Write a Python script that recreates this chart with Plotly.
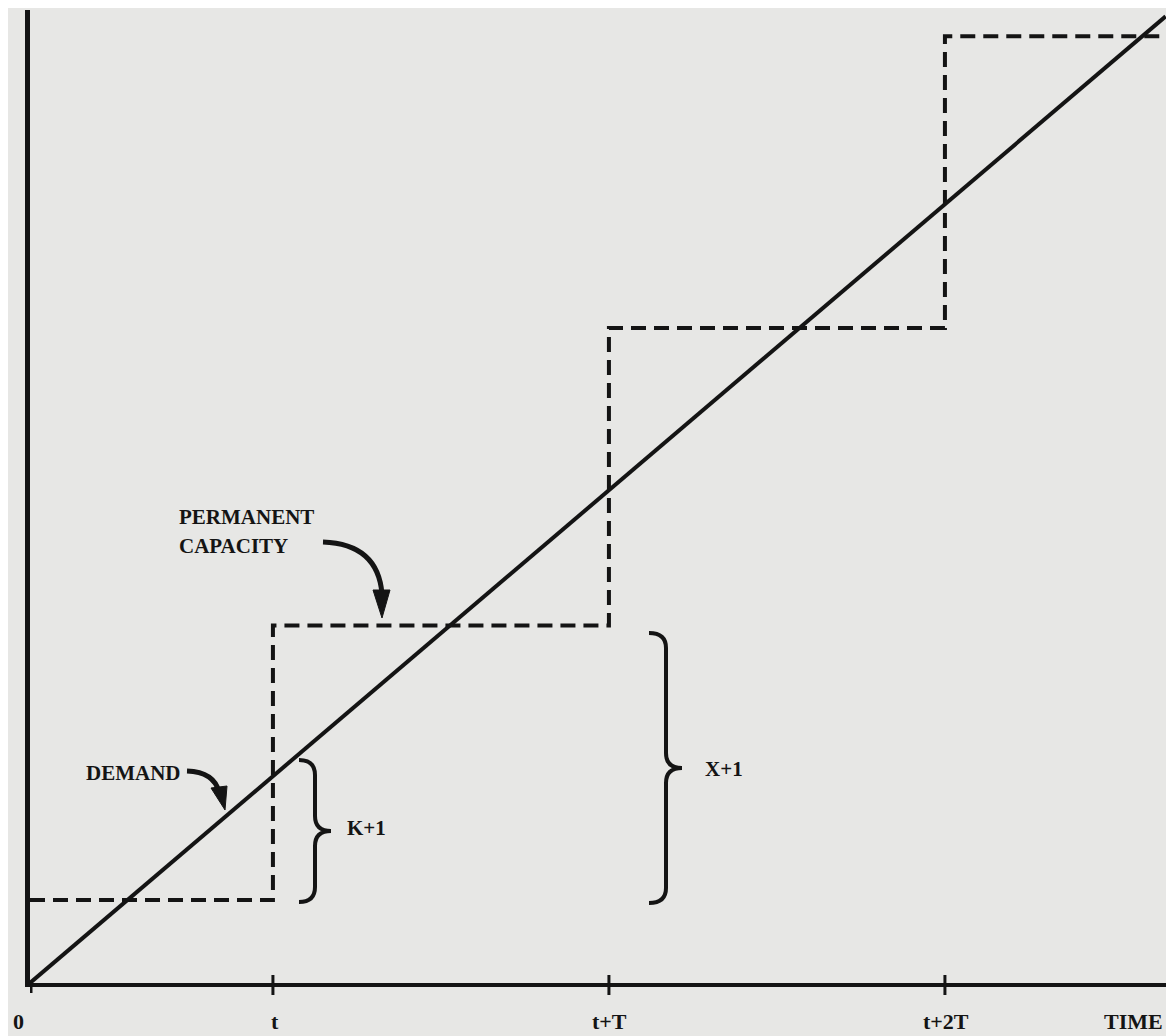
import plotly.graph_objects as go

# ---------------- data ----------------
tick_positions = [0.0, 0.723, 1.723, 2.723]
tick_labels = ["0", "t", "t+T", "t+2T"]
x_axis_title = "TIME"

step_times = [0.0, 0.723, 1.723, 2.723, 3.38]
capacity_levels = [0.29, 1.25, 2.29, 3.31, 3.31]

demand_x = [0.0, 3.38]
demand_y = [0.0, 3.38]

# ---------------- geometry helpers (decorations) ----------------
PAGE_OFF = 8                 # default body margin of the page
RIGHT_PX = 1166              # visible right edge of the page content
W, H = RIGHT_PX - PAGE_OFF, 1036 - PAGE_OFF
X0_PX, AXIS_Y_PX = 30, 983   # page pixel position of the origin
TOP_PX = 10
ML = X0_PX - PAGE_OFF
MT = TOP_PX - PAGE_OFF
MB = 1036 - AXIS_Y_PX
MR = 0
XU, YU = 336.0, 286.0
PLOT_W = W - ML - MR
PLOT_H = H - MT - MB
XMAX = PLOT_W / XU
YMAX = PLOT_H / YU


def gx(px):
    return (px - X0_PX) / XU


def gy(py):
    return (AXIS_Y_PX - py) / YU


def paper_x(px):
    return (px - X0_PX) / PLOT_W


def paper_y(py):
    return (AXIS_Y_PX - py) / PLOT_H


def path(cmds):
    out = []
    for c in cmds:
        if isinstance(c, str):
            out.append(c)
        else:
            out.append(f"{gx(c[0]):.5f},{gy(c[1]):.5f}")
    return " ".join(out)


INK = "#141414"
BG = "#e7e7e5"
FONT = "Liberation Serif"

fig = go.Figure()

fig.add_trace(go.Scatter(
    x=step_times, y=capacity_levels, mode="lines", line_shape="hv",
    line=dict(color=INK, width=4, dash="15px,8px"), hoverinfo="skip",
    showlegend=False, cliponaxis=True))

fig.add_trace(go.Scatter(
    x=demand_x, y=demand_y, mode="lines",
    line=dict(color=INK, width=4), hoverinfo="skip", showlegend=False))

shapes = []
for tp in tick_positions[1:]:
    shapes.append(dict(type="line", xref="x", yref="paper", x0=tp, x1=tp,
                       y0=paper_y(AXIS_Y_PX - 8), y1=paper_y(AXIS_Y_PX + 12),
                       line=dict(color=INK, width=3)))
shapes.append(dict(type="line", xref="x", yref="paper", x0=0, x1=0,
                   y0=paper_y(AXIS_Y_PX), y1=paper_y(AXIS_Y_PX + 10),
                   line=dict(color=INK, width=5)))


def brace(x_hook, x_spine, x_tip, y_top, y_bot):
    ym = (y_top + y_bot) / 2
    r = 15
    return path(["M", (x_hook, y_top), "Q", (x_spine, y_top), (x_spine, y_top + r),
                 "L", (x_spine, ym - r), "Q", (x_spine, ym), (x_tip, ym),
                 "Q", (x_spine, ym), (x_spine, ym + r),
                 "L", (x_spine, y_bot - r), "Q", (x_spine, y_bot), (x_hook, y_bot)])


shapes.append(dict(type="path", xref="x", yref="y",
                   path=brace(299, 315, 331, 760, 902),
                   line=dict(color=INK, width=4)))
shapes.append(dict(type="path", xref="x", yref="y",
                   path=brace(649, 666, 682, 633, 903),
                   line=dict(color=INK, width=4)))

shapes.append(dict(type="path", xref="x", yref="y",
                   path=path(["M", (323, 542), "Q", (378, 544), (382, 594)]),
                   line=dict(color=INK, width=5)))
shapes.append(dict(type="path", xref="x", yref="y",
                   path=path(["M", (373, 590), "L", (390, 590), "L", (382, 618), "Z"]),
                   fillcolor=INK, line=dict(color=INK, width=1)))
shapes.append(dict(type="path", xref="x", yref="y",
                   path=path(["M", (187, 771), "Q", (214, 772), (219, 792)]),
                   line=dict(color=INK, width=5)))
shapes.append(dict(type="path", xref="x", yref="y",
                   path=path(["M", (211, 788), "L", (227, 786), "L", (225, 810), "Z"]),
                   fillcolor=INK, line=dict(color=INK, width=1)))

annotations = []
label_font = dict(family=FONT, size=22, color=INK)
label_px = [18, 275, 609, 946]
for lp, tl in zip(label_px, tick_labels):
    annotations.append(dict(x=paper_x(lp), y=paper_y(1021), xref="paper", yref="paper",
                            text=f"<b>{tl}</b>", showarrow=False, font=label_font,
                            xanchor="center", yanchor="middle"))
annotations.append(dict(x=paper_x(1165), y=paper_y(1021), xref="paper", yref="paper",
                        text=f"<b>{x_axis_title}</b>", showarrow=False,
                        font=label_font, xanchor="right", yanchor="middle"))

text_font = dict(family=FONT, size=21, color=INK)
body = [
    dict(x=gx(177), y=gy(517), text="<b>PERMANENT</b>"),
    dict(x=gx(177), y=gy(546), text="<b>CAPACITY</b>"),
    dict(x=gx(84), y=gy(773), text="<b>DEMAND</b>"),
    dict(x=gx(345), y=gy(828), text="<b>K+1</b>"),
    dict(x=gx(703), y=gy(769), text="<b>X+1</b>"),
]
for a in body:
    a.update(xref="x", yref="y", showarrow=False, font=text_font,
             xanchor="left", yanchor="middle")
annotations += body

fig.update_layout(
    width=W, height=H,
    margin=dict(l=ML, r=MR, t=MT, b=MB, pad=0),
    paper_bgcolor=BG, plot_bgcolor=BG,
    shapes=shapes, annotations=annotations,
    xaxis=dict(range=[0, XMAX], showgrid=False, zeroline=False,
               showticklabels=False, ticks="", showline=True,
               linecolor=INK, linewidth=4, fixedrange=True),
    yaxis=dict(range=[0, YMAX], showgrid=False, zeroline=False,
               showticklabels=False, ticks="", showline=True,
               linecolor=INK, linewidth=5, fixedrange=True),
)

fig.write_html("out.html")
